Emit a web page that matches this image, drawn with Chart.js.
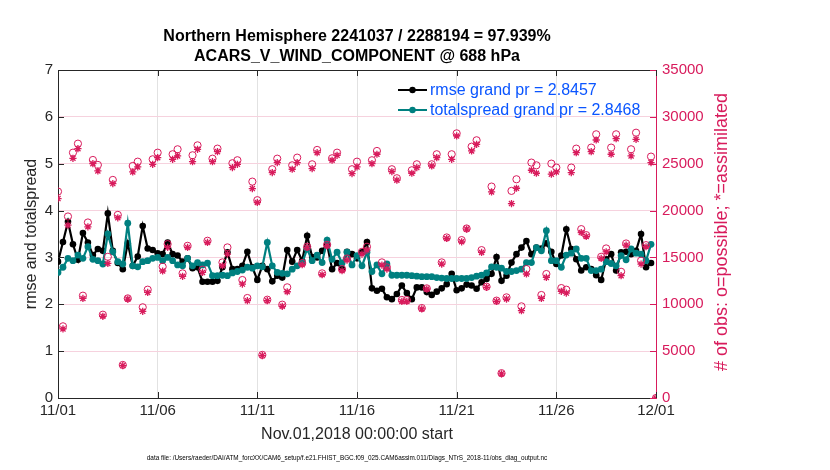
<!DOCTYPE html>
<html>
<head>
<meta charset="utf-8">
<script src="https://cdn.jsdelivr.net/npm/chart.js@4.4.1/dist/chart.umd.min.js"></script>
<style>
  html, body { margin: 0; padding: 0; background: #fff; }
  #wrap { width: 830px; height: 470px; }
</style>
</head>
<body>
<div id="wrap"><canvas id="obsChart" width="830" height="470"></canvas></div>
<script>
// ==================== DATA ====================
const TITLE_LINES = [
    'Northern Hemisphere 2241037 / 2288194 = 97.939%',
    'ACARS_V_WIND_COMPONENT @ 688 hPa'
];
const X_TICK_LABELS = ['11/01', '11/06', '11/11', '11/16', '11/21', '11/26', '12/01'];
const X_TITLE = 'Nov.01,2018 00:00:00 start';
const Y_TITLE = 'rmse and totalspread';
const Y2_TITLE = '# of obs: o=possible; *=assimilated';
const FOOTNOTE = 'data file: /Users/raeder/DAI/ATM_forcXX/CAM6_setup/f.e21.FHIST_BGC.f09_025.CAM6assim.011/Diags_NTrS_2018-11/obs_diag_output.nc';
const LEGEND_LABELS = ['rmse grand pr = 2.8457', 'totalspread grand pr = 2.8468'];

// 6-hourly steps, 11/01 00Z .. 12/01 00Z
const STEPS_PER_DAY = 4;

const rmse = [
    2.91, 3.33, 3.76, 3.28, 2.95, 3.52, 3.32, 3.05, 3.18, 3.14, 3.94, 3.14, 2.88, 2.75, 3.30, 2.82, 3.02, 3.67, 3.19, 3.16,
    3.09, 3.07, 3.32, 3.07, 3.04, 2.91, 2.98, 2.77, 2.79, 2.48, 2.48, 2.48, 2.50, 2.79, 3.11, 2.75, 2.75, 2.82, 3.12, 2.79,
    2.52, 2.82, 2.75, 2.49, 2.61, 2.57, 3.16, 2.91, 3.16, 2.93, 3.46, 3.01, 3.00, 3.14, 3.28, 2.75, 2.88, 2.75, 3.12, 3.07,
    2.98, 3.11, 3.33, 2.34, 2.29, 2.33, 2.15, 2.11, 2.22, 2.40, 2.24, 2.11, 2.36, 2.36, 2.26, 2.20, 2.27, 2.34, 2.43, 2.65,
    2.30, 2.34, 2.42, 2.40, 2.33, 2.47, 2.54, 2.65, 3.01, 2.50, 2.61, 2.89, 3.07, 3.21, 3.35, 3.07, 3.21, 3.19, 3.30, 3.12,
    2.86, 3.04, 3.60, 3.18, 2.96, 2.72, 2.79, 2.75, 2.62, 2.52, 2.96, 3.07, 2.72, 3.11, 3.12, 3.07, 3.14, 3.50, 2.79, 2.88,
    null
];
const totalspread = [
    2.68, 2.79, 2.98, 2.93, 3.05, 2.98, 3.23, 2.96, 2.93, 2.86, 3.50, 3.12, 2.91, 2.86, 3.73, 2.82, 2.80, 2.91, 2.93, 2.98,
    3.00, 2.93, 3.00, 2.93, 2.84, 2.82, 2.98, 2.82, 2.89, 2.84, 2.88, 2.61, 2.61, 2.62, 2.61, 2.67, 2.70, 2.73, 2.79, 2.77,
    2.82, 2.80, 3.32, 2.82, 2.68, 2.66, 2.65, 2.75, 2.82, 2.88, 3.18, 2.93, 3.05, 2.89, 3.37, 2.96, 3.11, 2.88, 3.11, 2.84,
    3.04, 2.82, 3.11, 2.70, 2.84, 2.65, 2.86, 2.62, 2.62, 2.62, 2.62, 2.61, 2.60, 2.59, 2.59, 2.59, 2.57, 2.56, 2.55, 2.55,
    2.55, 2.55, 2.55, 2.57, 2.60, 2.62, 2.67, 2.80, 2.79, 2.77, 2.70, 2.70, 2.72, 2.75, 2.89, 2.89, 3.21, 3.14, 3.57, 2.93,
    2.93, 2.79, 3.05, 3.09, 3.18, 2.98, 2.98, 2.72, 2.72, 2.75, 2.91, 2.87, 2.82, 3.04, 2.95, 3.18, 3.09, 3.07, 2.93, 3.28,
    null
];
const obsPossible = [
    22030, 7650, 19370, 26180, 27140, 10920, 18730, 25400, 24870, 8890, 15070, 23270, 19540, 3530, 10630, 24760, 25220, 9680, 11560, 25470,
    26180, 14010, 16420, 26010, 26540, 13300, 16240, 25900, 26960, 13690, 16780, 25540, 26610, 14470, 16070, 25050, 25370, 12590, 10670, 23090,
    21110, 4600, 10490, 24410, 25540, 9960, 11810, 24830, 25650, 14400, 16140, 24940, 26470, 13300, 16350, 25580, 26180, 13760, 14890, 24410,
    25220, 15600, 16140, 25370, 26360, 14470, 13940, 24410, 23450, 10460, 10460, 24300, 24940, 9600, 11700, 24940, 26010, 14470, 17130, 26010,
    28240, 16850, 18090, 26820, 27500, 15780, 11880, 22560, 10390, 2650, 10740, 22100, 23340, 9780, 13760, 25120, 24830, 10990, 13230, 25010,
    24590, 11730, 11560, 24590, 26610, 18020, 17380, 26720, 28140, 15070, 15960, 26720, 28140, 13470, 16490, 26540, 28310, 14650, 16310, 25760,
    0
];
const obsAssimilated = [
    21280, 7370, 18440, 25580, 26610, 10630, 18270, 25010, 24230, 8720, 14360, 22880, 19230, 3460, 10560, 24120, 24660, 9250, 11270, 24940,
    25650, 13550, 16070, 25470, 25830, 12980, 16070, 25220, 26540, 13400, 16600, 25220, 26290, 14110, 15360, 24590, 24940, 12160, 10390, 22350,
    20860, 4530, 10390, 24050, 25120, 9780, 11340, 24410, 25120, 14220, 16070, 24480, 26180, 13150, 16240, 25370, 25900, 13580, 14720, 23950,
    24660, 15360, 15780, 25010, 26010, 14180, 13760, 24160, 23240, 10310, 10310, 23980, 24590, 9500, 11630, 24760, 25650, 14290, 17020, 25470,
    27960, 16670, 18020, 26360, 27070, 15530, 11810, 21990, 10310, 2580, 10560, 20750, 22380, 9320, 13230, 24300, 23980, 10630, 12870, 23880,
    24120, 11380, 11200, 24050, 26180, 17660, 17240, 26290, 27530, 14890, 15600, 26010, 27670, 13050, 16310, 25830, 27600, 14290, 16140, 25120,
    0
];

// ==================== STYLE ====================
const FONT = "'Liberation Sans', Arial, Helvetica, sans-serif";
const TEXT_COLOR = '#262626';
const MAGENTA = '#d81b5c';
const TEAL = '#008080';
const LEGEND_BLUE = '#0a55ff';

const toPoints = arr => arr.map((v, i) => ({ x: i / STEPS_PER_DAY, y: v }));

// ==================== EXTRA DRAWING ====================
const decorations = {
    id: 'decorations',
    afterDraw(chart) {
        const c = chart.ctx;
        const a = chart.chartArea;
        const sx = chart.scales.x, sy = chart.scales.y, sy2 = chart.scales.y2;
        c.save();

        // top box line
        c.strokeStyle = TEXT_COLOR;
        c.lineWidth = 1;
        c.beginPath();
        c.moveTo(a.left, a.top + 0.5);
        c.lineTo(a.right, a.top + 0.5);
        c.stroke();

        // inward tick marks
        c.beginPath();
        sx.ticks.forEach(t => {
            const x = Math.round(sx.getPixelForValue(t.value)) + 0.5;
            c.moveTo(x, a.bottom); c.lineTo(x, a.bottom - 6);
            c.moveTo(x, a.top); c.lineTo(x, a.top + 6);
        });
        sy.ticks.forEach(t => {
            const y = Math.round(sy.getPixelForValue(t.value)) + 0.5;
            c.moveTo(a.left, y); c.lineTo(a.left + 6, y);
        });
        c.stroke();
        c.strokeStyle = MAGENTA;
        c.beginPath();
        sy2.ticks.forEach(t => {
            const y = Math.round(sy2.getPixelForValue(t.value)) + 0.5;
            c.moveTo(a.right, y); c.lineTo(a.right - 6, y);
        });
        c.stroke();

        // title
        const cx = (a.left + a.right) / 2;
        c.fillStyle = '#000';
        c.textAlign = 'center';
        c.textBaseline = 'middle';
        c.font = 'bold 16px ' + FONT;
        c.fillText(TITLE_LINES[0], cx, 37);
        c.fillText(TITLE_LINES[1], cx, 57);

        // x title + footnote
        c.fillStyle = TEXT_COLOR;
        c.font = '16px ' + FONT;
        c.fillText(X_TITLE, cx, 435);
        c.font = '6.4px ' + FONT;
        c.fillStyle = '#000';
        c.fillText(FOOTNOTE, 347, 458);

        // y titles
        const my = (a.top + a.bottom) / 2;
        c.font = '16px ' + FONT;
        c.fillStyle = TEXT_COLOR;
        c.save();
        c.translate(32, my);
        c.rotate(-Math.PI / 2);
        c.fillText(Y_TITLE, 0, 0);
        c.restore();
        c.font = '18px ' + FONT;
        c.fillStyle = MAGENTA;
        c.save();
        c.translate(722, my - 2);
        c.rotate(-Math.PI / 2);
        c.fillText(Y2_TITLE, 0, 0);
        c.restore();

        // legend
        const legendColors = ['#000', TEAL];
        c.textAlign = 'left';
        c.font = '16px ' + FONT;
        LEGEND_LABELS.forEach((label, i) => {
            const y = 90 + i * 20;
            c.strokeStyle = legendColors[i];
            c.lineWidth = 2;
            c.beginPath();
            c.moveTo(398, y); c.lineTo(427, y);
            c.stroke();
            c.fillStyle = legendColors[i];
            c.beginPath();
            c.arc(412.5, y, 3.2, 0, Math.PI * 2);
            c.fill();
            c.fillStyle = LEGEND_BLUE;
            c.fillText(label, 430, y + 1);
        });

        c.restore();
    }
};

// ==================== CHART ====================
const ctx = document.getElementById('obsChart').getContext('2d');
const obsChart = new Chart(ctx, {
    type: 'line',
    data: {
        datasets: [
            {
                label: 'possible',
                data: toPoints(obsPossible),
                yAxisID: 'y2',
                showLine: false,
                pointStyle: 'circle',
                pointRadius: 3.6,
                pointBorderWidth: 1,
                pointBorderColor: MAGENTA,
                pointBackgroundColor: 'rgba(255,255,255,0)',
                order: 1
            },
            {
                label: 'assimilated',
                data: toPoints(obsAssimilated),
                yAxisID: 'y2',
                showLine: false,
                pointStyle: 'star',
                pointRadius: 3.6,
                pointBorderWidth: 1.3,
                pointBorderColor: MAGENTA,
                pointBackgroundColor: MAGENTA,
                order: 0
            },
            {
                label: 'totalspread',
                data: toPoints(totalspread),
                yAxisID: 'y',
                borderColor: TEAL,
                borderWidth: 2.2,
                pointStyle: 'circle',
                pointRadius: 3.4,
                pointBorderWidth: 0,
                pointBackgroundColor: TEAL,
                tension: 0,
                order: 2
            },
            {
                label: 'rmse',
                data: toPoints(rmse),
                yAxisID: 'y',
                borderColor: '#000',
                borderWidth: 2.2,
                pointStyle: 'circle',
                pointRadius: 3.3,
                pointBorderWidth: 0,
                pointBackgroundColor: '#000',
                tension: 0,
                order: 3
            }
        ]
    },
    options: {
        responsive: false,
        animation: false,
        devicePixelRatio: 1,
        layout: { padding: { top: 70, left: 0, right: 0, bottom: 0 } },
        plugins: {
            legend: { display: false },
            tooltip: { enabled: false },
            title: { display: false }
        },
        scales: {
            x: {
                type: 'linear',
                min: 0,
                max: 30,
                ticks: {
                    stepSize: 5,
                    maxRotation: 0,
                    autoSkip: false,
                    padding: 4,
                    color: TEXT_COLOR,
                    font: { family: FONT, size: 15 },
                    callback: v => X_TICK_LABELS[Math.round(v / 5)]
                },
                grid: { color: '#e2e2e2', drawTicks: false },
                border: { color: TEXT_COLOR, width: 1 },
                afterFit: s => { s.height = 72; }
            },
            y: {
                position: 'left',
                min: 0,
                max: 7,
                ticks: {
                    stepSize: 1,
                    padding: 5,
                    color: TEXT_COLOR,
                    font: { family: FONT, size: 15 }
                },
                grid: { display: false, drawTicks: false },
                border: { color: TEXT_COLOR, width: 1 },
                afterFit: s => { s.width = 58; }
            },
            y2: {
                position: 'right',
                min: 0,
                max: 35000,
                ticks: {
                    stepSize: 5000,
                    padding: 6,
                    color: MAGENTA,
                    font: { family: FONT, size: 15 },
                    callback: v => String(v)
                },
                grid: { color: '#f6d2de', drawTicks: false },
                border: { color: MAGENTA, width: 1 },
                afterFit: s => { s.width = 174; }
            }
        }
    },
    plugins: [decorations]
});
</script>
</body>
</html>
